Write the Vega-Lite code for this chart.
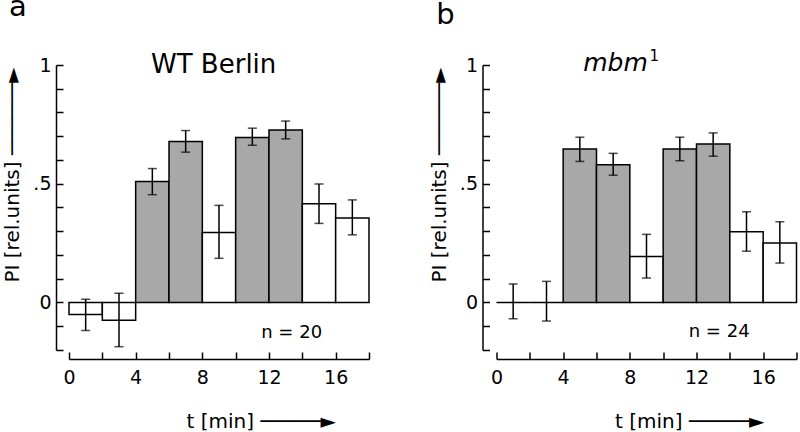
{
  "$schema": "https://vega.github.io/schema/vega-lite/v6.json",
  "autosize": {"type": "none"},
  "padding": {"left": 69, "top": 65, "right": 731, "bottom": 367},
  "background": "white",
  "spacing": 127.5,
  "bounds": "flush",
  "config": {
    "view": {"stroke": null},
    "font": "DejaVu Sans",
    "text": {"font": "DejaVu Sans", "baseline": "alphabetic", "color": "black"},
    "axis": {
      "domainColor": "black", "domainWidth": 1.5, "tickColor": "black", "tickWidth": 1.5,
      "tickSize": -7, "grid": false, "labelFont": "DejaVu Sans", "labelFontSize": 19,
      "labelColor": "black", "titleFont": "DejaVu Sans", "titleFontSize": 20,
      "titleFontWeight": "normal", "titleColor": "black", "labelFlush": false, "labelOverlap": false
    },
    "axisX": {
      "labelExpr": "datum.value % 4 == 0 && datum.value < 18 ? datum.label : ''",
      "labelPadding": 16, "titleY": 68, "titleAlign": "left", "titleAnchor": "start", "titleBaseline": "alphabetic"
    },
    "axisY": {
      "labelExpr": "abs(datum.value) < 0.001 ? '0' : abs(datum.value - 0.5) < 0.001 ? '.5' : abs(datum.value - 1) < 0.001 ? '1' : ''",
      "labelPadding": 12, "titleY": 217, "titleAlign": "left", "titleAnchor": "start", "titleBaseline": "alphabetic"
    }
  },
  "datasets": {
    "bars": [
      {"panel": "a", "t0": 0, "t1": 2, "tc": 1, "pi": -0.05, "lo": -0.118, "hi": 0.014, "stim": "no"},
      {"panel": "a", "t0": 2, "t1": 4, "tc": 3, "pi": -0.075, "lo": -0.186, "hi": 0.039, "stim": "no"},
      {"panel": "a", "t0": 4, "t1": 6, "tc": 5, "pi": 0.51, "lo": 0.454, "hi": 0.564, "stim": "yes"},
      {"panel": "a", "t0": 6, "t1": 8, "tc": 7, "pi": 0.678, "lo": 0.633, "hi": 0.724, "stim": "yes"},
      {"panel": "a", "t0": 8, "t1": 10, "tc": 9, "pi": 0.295, "lo": 0.186, "hi": 0.409, "stim": "no"},
      {"panel": "a", "t0": 10, "t1": 12, "tc": 11, "pi": 0.695, "lo": 0.662, "hi": 0.734, "stim": "yes"},
      {"panel": "a", "t0": 12, "t1": 14, "tc": 13, "pi": 0.726, "lo": 0.689, "hi": 0.764, "stim": "yes"},
      {"panel": "a", "t0": 14, "t1": 16, "tc": 15, "pi": 0.416, "lo": 0.333, "hi": 0.499, "stim": "no"},
      {"panel": "a", "t0": 16, "t1": 18, "tc": 17, "pi": 0.356, "lo": 0.285, "hi": 0.432, "stim": "no"},
      {"panel": "b", "t0": 0, "t1": 2, "tc": 1, "pi": 0.0, "lo": -0.068, "hi": 0.078, "stim": "no"},
      {"panel": "b", "t0": 2, "t1": 4, "tc": 3, "pi": 0.0, "lo": -0.078, "hi": 0.089, "stim": "no"},
      {"panel": "b", "t0": 4, "t1": 6, "tc": 5, "pi": 0.646, "lo": 0.594, "hi": 0.696, "stim": "yes"},
      {"panel": "b", "t0": 6, "t1": 8, "tc": 7, "pi": 0.58, "lo": 0.536, "hi": 0.628, "stim": "yes"},
      {"panel": "b", "t0": 8, "t1": 10, "tc": 9, "pi": 0.194, "lo": 0.103, "hi": 0.287, "stim": "no"},
      {"panel": "b", "t0": 10, "t1": 12, "tc": 11, "pi": 0.646, "lo": 0.597, "hi": 0.696, "stim": "yes"},
      {"panel": "b", "t0": 12, "t1": 14, "tc": 13, "pi": 0.667, "lo": 0.616, "hi": 0.714, "stim": "yes"},
      {"panel": "b", "t0": 14, "t1": 16, "tc": 15, "pi": 0.298, "lo": 0.216, "hi": 0.382, "stim": "no"},
      {"panel": "b", "t0": 16, "t1": 18, "tc": 17, "pi": 0.251, "lo": 0.166, "hi": 0.34, "stim": "no"}
    ],
    "notes": [
      {"panel": "a", "kind": "letter", "x": -3.6, "y": 1.206, "text": "a"},
      {"panel": "a", "kind": "title", "x": 8.68, "y": 0.965, "text": "WT Berlin"},
      {"panel": "a", "kind": "n", "x": 13.36, "y": -0.148, "text": "n = 20"},
      {"panel": "b", "kind": "letter", "x": -3.62, "y": 1.173, "text": "b"},
      {"panel": "b", "kind": "italic", "x": 7.14, "y": 0.975, "text": "mbm"},
      {"panel": "b", "kind": "sup", "x": 9.18, "y": 1.017, "text": "1"},
      {"panel": "b", "kind": "n", "x": 13.36, "y": -0.144, "text": "n = 24"}
    ]
  },
  "hconcat": [
    {
      "width": 300, "height": 285,
      "layer": [
        {
          "data": {"name": "bars"},
          "transform": [{"filter": "datum.panel == 'a'"}],
          "mark": {"type": "bar", "stroke": "black", "strokeWidth": 1.5},
          "encoding": {
            "x": {"field": "t0", "type": "quantitative", "scale": {"domain": [0, 18], "nice": false, "zero": false},
              "axis": {"values": [0, 2, 4, 6, 8, 10, 12, 14, 16, 18], "labelOverlap": false, "offset": 9, "title": "t [min] ─────►", "titleX": 117}},
            "x2": {"field": "t1"},
            "y": {"field": "pi", "type": "quantitative", "scale": {"domain": [-0.2, 1], "nice": false, "zero": false},
              "axis": {"values": [-0.2, -0.1, 0, 0.1, 0.2, 0.3, 0.4, 0.5, 0.6, 0.7, 0.8, 0.9, 1], "labelOverlap": false, "offset": 13, "title": "PI [rel.units]  ──────►", "titleX": -38}},
            "y2": {"datum": 0},
            "fill": {"field": "stim", "type": "nominal", "scale": {"domain": ["yes", "no"], "range": ["#a8a8a8", "white"]}, "legend": null}
          }
        },
        {
          "data": {"name": "bars"},
          "transform": [{"filter": "datum.panel == 'a'"}],
          "mark": {"type": "rule", "color": "black", "strokeWidth": 1.5},
          "encoding": {
            "x": {"field": "tc", "type": "quantitative",
              "axis": {"values": [0, 2, 4, 6, 8, 10, 12, 14, 16, 18], "labelOverlap": false, "offset": 9, "title": "t [min] ─────►", "titleX": 117}},
            "y": {"field": "lo", "type": "quantitative",
              "axis": {"values": [-0.2, -0.1, 0, 0.1, 0.2, 0.3, 0.4, 0.5, 0.6, 0.7, 0.8, 0.9, 1], "labelOverlap": false, "offset": 13, "title": "PI [rel.units]  ──────►", "titleX": -38}},
            "y2": {"field": "hi"}
          }
        },
        {
          "data": {"name": "bars"},
          "transform": [{"filter": "datum.panel == 'a'"}, {"fold": ["lo", "hi"], "as": ["end", "val"]}],
          "mark": {"type": "tick", "orient": "horizontal", "color": "black", "thickness": 1.5, "size": 9},
          "encoding": {
            "x": {"field": "tc", "type": "quantitative",
              "axis": {"values": [0, 2, 4, 6, 8, 10, 12, 14, 16, 18], "labelOverlap": false, "offset": 9, "title": "t [min] ─────►", "titleX": 117}},
            "y": {"field": "val", "type": "quantitative",
              "axis": {"values": [-0.2, -0.1, 0, 0.1, 0.2, 0.3, 0.4, 0.5, 0.6, 0.7, 0.8, 0.9, 1], "labelOverlap": false, "offset": 13, "title": "PI [rel.units]  ──────►", "titleX": -38}}
          }
        },
        {
          "data": {"name": "notes"},
          "transform": [{"filter": "datum.panel == 'a' && datum.kind == 'letter'"}],
          "mark": {"type": "text", "fontSize": 29, "align": "left"},
          "encoding": {
            "x": {"field": "x", "type": "quantitative",
              "axis": {"values": [0, 2, 4, 6, 8, 10, 12, 14, 16, 18], "labelOverlap": false, "offset": 9, "title": "t [min] ─────►", "titleX": 117}},
            "y": {"field": "y", "type": "quantitative",
              "axis": {"values": [-0.2, -0.1, 0, 0.1, 0.2, 0.3, 0.4, 0.5, 0.6, 0.7, 0.8, 0.9, 1], "labelOverlap": false, "offset": 13, "title": "PI [rel.units]  ──────►", "titleX": -38}},
            "text": {"field": "text"}
          }
        },
        {
          "data": {"name": "notes"},
          "transform": [{"filter": "datum.panel == 'a' && datum.kind == 'title'"}],
          "mark": {"type": "text", "fontSize": 26, "align": "center"},
          "encoding": {
            "x": {"field": "x", "type": "quantitative",
              "axis": {"values": [0, 2, 4, 6, 8, 10, 12, 14, 16, 18], "labelOverlap": false, "offset": 9, "title": "t [min] ─────►", "titleX": 117}},
            "y": {"field": "y", "type": "quantitative",
              "axis": {"values": [-0.2, -0.1, 0, 0.1, 0.2, 0.3, 0.4, 0.5, 0.6, 0.7, 0.8, 0.9, 1], "labelOverlap": false, "offset": 13, "title": "PI [rel.units]  ──────►", "titleX": -38}},
            "text": {"field": "text"}
          }
        },
        {
          "data": {"name": "notes"},
          "transform": [{"filter": "datum.panel == 'a' && datum.kind == 'n'"}],
          "mark": {"type": "text", "fontSize": 18, "align": "center"},
          "encoding": {
            "x": {"field": "x", "type": "quantitative",
              "axis": {"values": [0, 2, 4, 6, 8, 10, 12, 14, 16, 18], "labelOverlap": false, "offset": 9, "title": "t [min] ─────►", "titleX": 117}},
            "y": {"field": "y", "type": "quantitative",
              "axis": {"values": [-0.2, -0.1, 0, 0.1, 0.2, 0.3, 0.4, 0.5, 0.6, 0.7, 0.8, 0.9, 1], "labelOverlap": false, "offset": 13, "title": "PI [rel.units]  ──────►", "titleX": -38}},
            "text": {"field": "text"}
          }
        }
      ]
    },
    {
      "width": 300, "height": 285,
      "layer": [
        {
          "data": {"name": "bars"},
          "transform": [{"filter": "datum.panel == 'b'"}],
          "mark": {"type": "bar", "stroke": "black", "strokeWidth": 1.5},
          "encoding": {
            "x": {"field": "t0", "type": "quantitative", "scale": {"domain": [0, 18], "nice": false, "zero": false},
              "axis": {"values": [0, 2, 4, 6, 8, 10, 12, 14, 16, 18], "labelOverlap": false, "offset": 9, "title": "t [min] ─────►", "titleX": 118}},
            "x2": {"field": "t1"},
            "y": {"field": "pi", "type": "quantitative", "scale": {"domain": [-0.2, 1], "nice": false, "zero": false},
              "axis": {"values": [-0.2, -0.1, 0, 0.1, 0.2, 0.3, 0.4, 0.5, 0.6, 0.7, 0.8, 0.9, 1], "labelOverlap": false, "offset": 14, "title": "PI [rel.units]  ──────►", "titleX": -37}},
            "y2": {"datum": 0},
            "fill": {"field": "stim", "type": "nominal", "scale": {"domain": ["yes", "no"], "range": ["#a8a8a8", "white"]}, "legend": null}
          }
        },
        {
          "data": {"name": "bars"},
          "transform": [{"filter": "datum.panel == 'b'"}],
          "mark": {"type": "rule", "color": "black", "strokeWidth": 1.5},
          "encoding": {
            "x": {"field": "tc", "type": "quantitative",
              "axis": {"values": [0, 2, 4, 6, 8, 10, 12, 14, 16, 18], "labelOverlap": false, "offset": 9, "title": "t [min] ─────►", "titleX": 118}},
            "y": {"field": "lo", "type": "quantitative",
              "axis": {"values": [-0.2, -0.1, 0, 0.1, 0.2, 0.3, 0.4, 0.5, 0.6, 0.7, 0.8, 0.9, 1], "labelOverlap": false, "offset": 14, "title": "PI [rel.units]  ──────►", "titleX": -37}},
            "y2": {"field": "hi"}
          }
        },
        {
          "data": {"name": "bars"},
          "transform": [{"filter": "datum.panel == 'b'"}, {"fold": ["lo", "hi"], "as": ["end", "val"]}],
          "mark": {"type": "tick", "orient": "horizontal", "color": "black", "thickness": 1.5, "size": 9},
          "encoding": {
            "x": {"field": "tc", "type": "quantitative",
              "axis": {"values": [0, 2, 4, 6, 8, 10, 12, 14, 16, 18], "labelOverlap": false, "offset": 9, "title": "t [min] ─────►", "titleX": 118}},
            "y": {"field": "val", "type": "quantitative",
              "axis": {"values": [-0.2, -0.1, 0, 0.1, 0.2, 0.3, 0.4, 0.5, 0.6, 0.7, 0.8, 0.9, 1], "labelOverlap": false, "offset": 14, "title": "PI [rel.units]  ──────►", "titleX": -37}}
          }
        },
        {
          "data": {"name": "notes"},
          "transform": [{"filter": "datum.panel == 'b' && datum.kind == 'letter'"}],
          "mark": {"type": "text", "fontSize": 29, "align": "left"},
          "encoding": {
            "x": {"field": "x", "type": "quantitative",
              "axis": {"values": [0, 2, 4, 6, 8, 10, 12, 14, 16, 18], "labelOverlap": false, "offset": 9, "title": "t [min] ─────►", "titleX": 118}},
            "y": {"field": "y", "type": "quantitative",
              "axis": {"values": [-0.2, -0.1, 0, 0.1, 0.2, 0.3, 0.4, 0.5, 0.6, 0.7, 0.8, 0.9, 1], "labelOverlap": false, "offset": 14, "title": "PI [rel.units]  ──────►", "titleX": -37}},
            "text": {"field": "text"}
          }
        },
        {
          "data": {"name": "notes"},
          "transform": [{"filter": "datum.panel == 'b' && datum.kind == 'italic'"}],
          "mark": {"type": "text", "fontSize": 25, "fontStyle": "italic", "align": "center"},
          "encoding": {
            "x": {"field": "x", "type": "quantitative",
              "axis": {"values": [0, 2, 4, 6, 8, 10, 12, 14, 16, 18], "labelOverlap": false, "offset": 9, "title": "t [min] ─────►", "titleX": 118}},
            "y": {"field": "y", "type": "quantitative",
              "axis": {"values": [-0.2, -0.1, 0, 0.1, 0.2, 0.3, 0.4, 0.5, 0.6, 0.7, 0.8, 0.9, 1], "labelOverlap": false, "offset": 14, "title": "PI [rel.units]  ──────►", "titleX": -37}},
            "text": {"field": "text"}
          }
        },
        {
          "data": {"name": "notes"},
          "transform": [{"filter": "datum.panel == 'b' && datum.kind == 'sup'"}],
          "mark": {"type": "text", "fontSize": 15, "align": "left"},
          "encoding": {
            "x": {"field": "x", "type": "quantitative",
              "axis": {"values": [0, 2, 4, 6, 8, 10, 12, 14, 16, 18], "labelOverlap": false, "offset": 9, "title": "t [min] ─────►", "titleX": 118}},
            "y": {"field": "y", "type": "quantitative",
              "axis": {"values": [-0.2, -0.1, 0, 0.1, 0.2, 0.3, 0.4, 0.5, 0.6, 0.7, 0.8, 0.9, 1], "labelOverlap": false, "offset": 14, "title": "PI [rel.units]  ──────►", "titleX": -37}},
            "text": {"field": "text"}
          }
        },
        {
          "data": {"name": "notes"},
          "transform": [{"filter": "datum.panel == 'b' && datum.kind == 'n'"}],
          "mark": {"type": "text", "fontSize": 18, "align": "center"},
          "encoding": {
            "x": {"field": "x", "type": "quantitative",
              "axis": {"values": [0, 2, 4, 6, 8, 10, 12, 14, 16, 18], "labelOverlap": false, "offset": 9, "title": "t [min] ─────►", "titleX": 118}},
            "y": {"field": "y", "type": "quantitative",
              "axis": {"values": [-0.2, -0.1, 0, 0.1, 0.2, 0.3, 0.4, 0.5, 0.6, 0.7, 0.8, 0.9, 1], "labelOverlap": false, "offset": 14, "title": "PI [rel.units]  ──────►", "titleX": -37}},
            "text": {"field": "text"}
          }
        }
      ]
    }
  ]
}
